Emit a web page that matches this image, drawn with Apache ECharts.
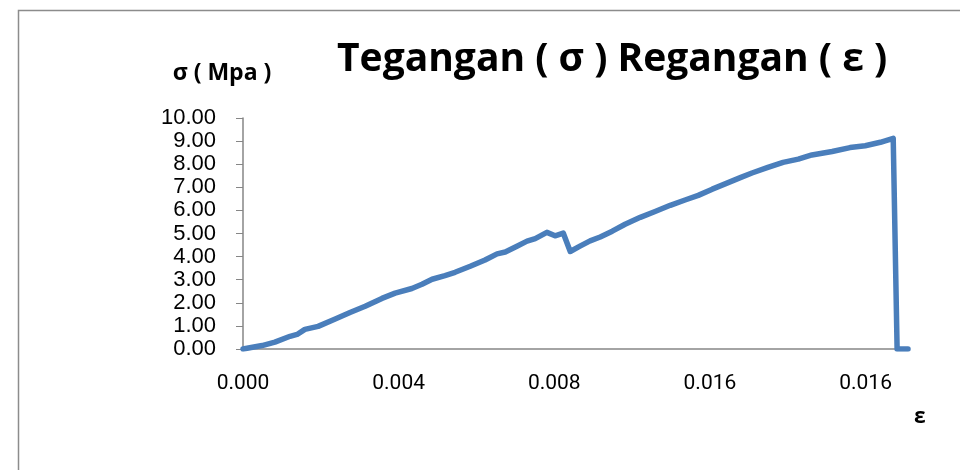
<!DOCTYPE html>
<html>
<head>
<meta charset="utf-8">
<script src="https://cdn.jsdelivr.net/npm/echarts@6/dist/echarts.min.js"></script>
<style>
  html, body { margin: 0; padding: 0; background: #fff; }
  #chart { width: 960px; height: 470px; }
</style>
</head>
<body>
<div id="chart"></div>
<script>
// regangan (strain) and tegangan (stress, MPa)
const strain = [
  0, 0.00049, 0.00082, 0.00121, 0.00139, 0.00159, 0.00193, 0.00237, 0.00275, 0.00314,
  0.00357, 0.00391, 0.00434, 0.0046, 0.00486, 0.00519, 0.00545, 0.00584, 0.00622, 0.00653,
  0.00674, 0.00704, 0.0073, 0.00751, 0.00781, 0.00802, 0.00823, 0.00841, 0.00866, 0.00892,
  0.00918, 0.00949, 0.00982, 0.01021, 0.01059, 0.01098, 0.01136, 0.0117, 0.01206, 0.01239,
  0.01278, 0.01308, 0.01347, 0.01388, 0.01427, 0.01462, 0.01514, 0.0156, 0.01599, 0.01638,
  0.01671, 0.01681, 0.01709
];
const stress = [
  0.00, 0.15, 0.30, 0.55, 0.63, 0.85, 0.98, 1.30, 1.58, 1.85,
  2.19, 2.42, 2.62, 2.80, 3.02, 3.18, 3.32, 3.58, 3.85, 4.12,
  4.20, 4.45, 4.67, 4.78, 5.05, 4.90, 5.02, 4.22, 4.45, 4.68,
  4.85, 5.10, 5.40, 5.70, 5.95, 6.22, 6.45, 6.65, 6.92, 7.15,
  7.42, 7.62, 7.85, 8.08, 8.22, 8.40, 8.55, 8.72, 8.80, 8.95,
  9.12, 0.00, 0.00
];
// x labels as printed in the original (Excel category labels)
const xTickLabels = ["0.000", "0.004", "0.008", "0.016", "0.016"];
const xStep = 0.004;

const chart = echarts.init(document.getElementById("chart"));

const option = {
  backgroundColor: "#fff",
  animation: false,
  title: {
    text: "Tegangan ( σ ) Regangan ( ε )",
    left: 332,
    top: 35,
    textStyle: {
      fontFamily: "Open Sans",
      fontWeight: "bold",
      fontSize: 39,
      color: "#000",
    },
  },
  graphic: [
    {
      type: "rect",
      shape: { x: 18.5, y: 10.5, width: 960, height: 480 },
      style: { fill: "none", stroke: "#8c8c8c", lineWidth: 1.5 },
      silent: true,
    },
    {
      // x axis name, sits well below the axis end in the original
      type: "text",
      left: 914,
      top: 407,
      style: {
        text: "ε",
        font: "bold 21px 'Open Sans'",
        fill: "#000",
      },
      silent: true,
    },
  ],
  grid: {
    left: 243,
    right: 52,
    top: 118,
    bottom: 121,
  },
  xAxis: {
    type: "value",
    min: 0,
    max: 0.01709,
    interval: xStep,
    axisLine: { lineStyle: { color: "#868686", width: 1.5 } },
    axisTick: { show: false },
    splitLine: { show: false },
    axisLabel: {
      margin: 24,
      fontFamily: "Liberation Sans Narrow, Roboto",
      fontSize: 21,
      color: "#000",
      showMaxLabel: false,
      formatter: function (v) {
        const i = Math.round(v / xStep);
        return Math.abs(v - i * xStep) < 1e-9 && i < xTickLabels.length ? xTickLabels[i] : "";
      },
    },
  },
  yAxis: {
    type: "value",
    min: 0,
    max: 10,
    interval: 1,
    name: "σ ( Mpa )",
    nameLocation: "end",
    nameGap: 33,
    nameTextStyle: {
      fontFamily: "Open Sans",
      fontWeight: "bold",
      fontSize: 23,
      color: "#000",
      padding: [0, 42, 0, 0],
    },
    axisLine: { show: true, lineStyle: { color: "#868686", width: 1.5 } },
    axisTick: { show: true, inside: false, length: 7, lineStyle: { color: "#868686" } },
    splitLine: { show: false },
    axisLabel: {
      margin: 27,
      fontFamily: "Liberation Sans",
      fontSize: 22,
      color: "#000",
      formatter: (v) => v.toFixed(2),
    },
  },
  series: [
    {
      type: "line",
      data: strain.map((x, i) => [x, stress[i]]),
      showSymbol: false,
      lineStyle: { color: "#4a7ebb", width: 5.5, cap: "round", join: "round" },
    },
  ],
};

chart.setOption(option);
</script>
</body>
</html>
